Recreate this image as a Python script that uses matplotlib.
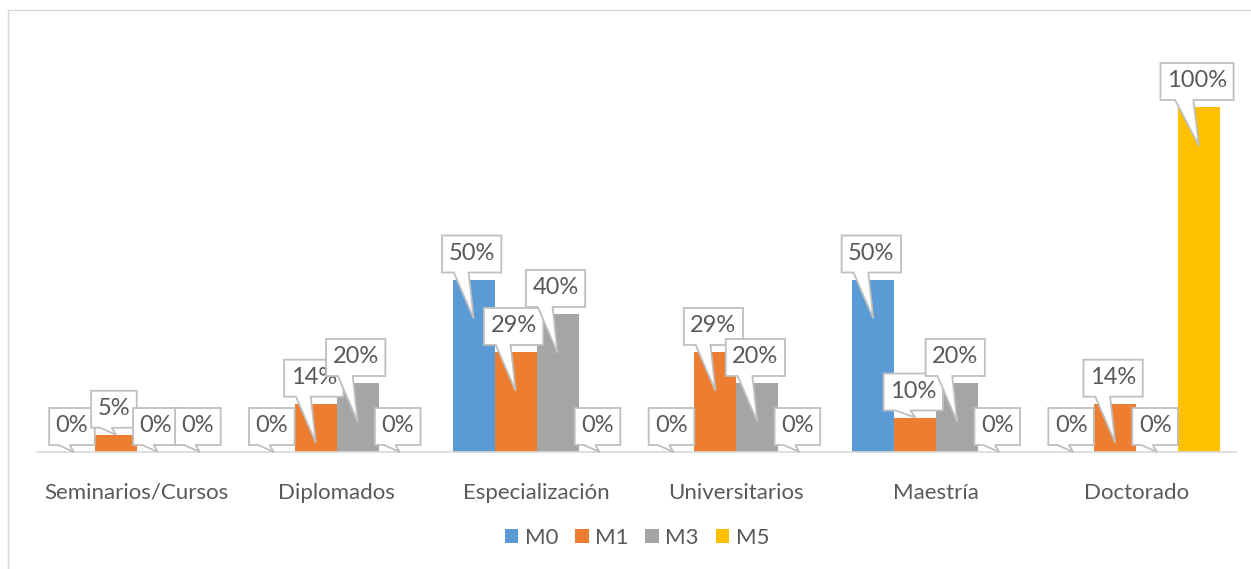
import matplotlib
matplotlib.use("Agg")
import matplotlib.pyplot as plt
import numpy as np
from matplotlib.patches import Polygon, Patch, Rectangle
from matplotlib.transforms import IdentityTransform

categories = ["Seminarios/Cursos", "Diplomados", "Especialización",
              "Universitarios", "Maestría", "Doctorado"]
series = ["M0", "M1", "M3", "M5"]
m0 = [0, 0, 50, 0, 50, 0]
m1 = [5, 14, 29, 29, 10, 14]
m3 = [0, 20, 40, 20, 20, 0]
m5 = [0, 0, 0, 0, 0, 100]
colors = ["#5B9BD5", "#ED7D31", "#A5A5A5", "#FFC000"]

plt.rcParams["font.family"] = ["Lato", "DejaVu Sans"]
text_color = "#595959"
border_color = "#BFBFBF"
fs = 16

W, H = 1251, 569
fig = plt.figure(figsize=(W / 100, H / 100), dpi=100)
ax = fig.add_axes([37 / W, 117 / H, 1199 / W, 432 / H])

x = np.arange(len(categories))
bw = 0.21
values = [m0, m1, m3, m5]
for i, (name, vals, c) in enumerate(zip(series, values, colors)):
    ax.bar(x + (i - 1.5) * bw, vals, bw, color=c, label=name, zorder=2)

ax.set_xlim(-0.5, 5.5)
ax.set_ylim(0, 432 / 3.45)
ax.set_yticks([])
ax.set_xticks(x)
ax.set_xticklabels(categories, fontsize=fs, color=text_color)
ax.tick_params(axis="x", length=0, pad=22)
for s in ["top", "right", "left"]:
    ax.spines[s].set_visible(False)
ax.spines["bottom"].set_color("#D9D9D9")
ax.spines["bottom"].set_linewidth(1.2)

# callout data labels
fig.canvas.draw()
renderer = fig.canvas.get_renderer()
z = 5
for i, vals in enumerate(values):
    for j, v in enumerate(vals):
        xc = x[j] + (i - 1.5) * bw
        bx, top = ax.transData.transform((xc, v))
        tip_v = v - 11.3 if v > 12 else v
        _, tip_y = ax.transData.transform((xc, tip_v))
        t = ax.text(0, 0, f"{v}%", fontsize=17, color=text_color,
                    ha="center", va="center", transform=IdentityTransform(),
                    zorder=z + 1, clip_on=False)
        tw = t.get_window_extent(renderer).width
        bw_px = tw + 13
        bh = 37
        cx = bx - 2
        left, right = cx - bw_px / 2, cx + bw_px / 2
        bottom = top + 7
        ttop = bottom + bh
        b1 = left + 0.2 * bw_px
        b2 = left + 0.45 * bw_px
        pts = [(left, bottom), (b1, bottom), (bx, tip_y), (b2, bottom),
               (right, bottom), (right, ttop), (left, ttop)]
        poly = Polygon(pts, closed=True, facecolor="white", edgecolor=border_color,
                       linewidth=1.3, transform=IdentityTransform(), zorder=z,
                       clip_on=False)
        ax.add_artist(poly)
        t.set_position((cx, bottom + bh / 2 + 1))
        z += 2

handles = [Patch(facecolor=c, label=n) for n, c in zip(series, colors)]
fig.legend(handles=handles, loc="center", bbox_to_anchor=(637 / W, 1 - 538 / H),
           ncol=4, frameon=False, fontsize=fs, labelcolor=text_color,
           handlelength=0.6, handleheight=0.6, handletextpad=0.3,
           columnspacing=0.75)

fig.add_artist(Rectangle((8 / W, -0.1), 1.2, 559 / H + 0.1, transform=fig.transFigure,
                         fill=False, edgecolor="#D9D9D9", linewidth=1))

fig.savefig("out.png", dpi=100)
